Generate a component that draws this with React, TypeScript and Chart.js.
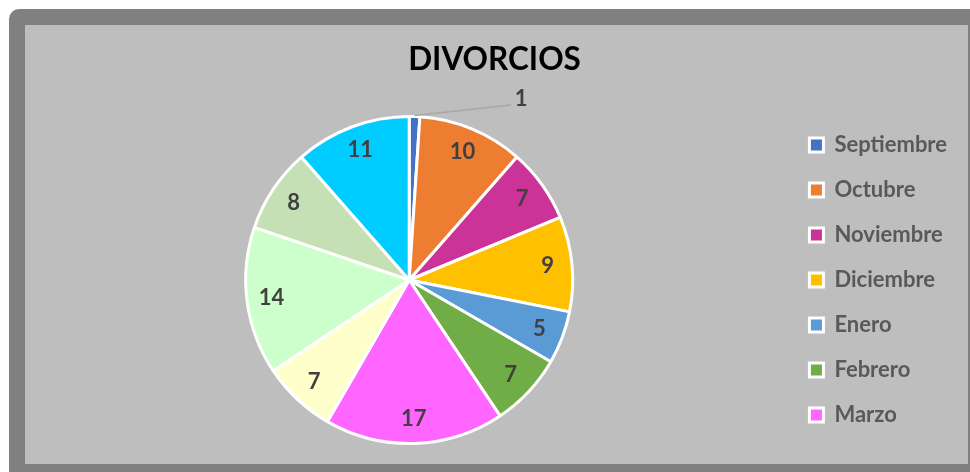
import { useEffect, useRef } from "react";
import { Chart, registerables } from "chart.js";

Chart.register(...registerables);

const chartTitle = "DIVORCIOS";
const months = [
  "Septiembre", "Octubre", "Noviembre", "Diciembre", "Enero", "Febrero",
  "Marzo", "Abril", "Mayo", "Junio", "Julio",
];
const divorces = [1, 10, 7, 9, 5, 7, 17, 7, 14, 8, 11];
const sliceColors = [
  "#4472C4", "#ED7D31", "#CC3399", "#FFC000", "#5B9BD5", "#70AD47",
  "#FF66FF", "#FFFFCC", "#CCFFCC", "#C5E0B4", "#00CCFF",
];
const legendVisibleCount = 7;

const FONT = "Lato, 'DejaVu Sans', sans-serif";

const valueLabels = {
  id: "valueLabels",
  afterDatasetsDraw(chart: any) {
    const ctx = chart.ctx as CanvasRenderingContext2D;
    const meta = chart.getDatasetMeta(0);
    const data = chart.data.datasets[0].data as number[];
    const total = data.reduce((a, b) => a + b, 0);
    ctx.save();
    ctx.font = `bold 22px ${FONT}`;
    ctx.fillStyle = "#404040";
    ctx.textAlign = "center";
    ctx.textBaseline = "middle";
    meta.data.forEach((arc: any, i: number) => {
      const { x, y, startAngle, endAngle, outerRadius } = arc.getProps(
        ["x", "y", "startAngle", "endAngle", "outerRadius"],
        true
      );
      const mid = (startAngle + endAngle) / 2;
      const v = data[i];
      if (v / total < 0.03) {
        const ex = x + Math.cos(mid) * (outerRadius + 1);
        const ey = y + Math.sin(mid) * (outerRadius + 1);
        const lx = ex + outerRadius * 0.59;
        const ly = ey - outerRadius * 0.065;
        ctx.strokeStyle = "#A6A6A6";
        ctx.lineWidth = 1.5;
        ctx.beginPath();
        ctx.moveTo(ex, ey);
        ctx.lineTo(lx, ly);
        ctx.stroke();
        ctx.fillText(String(v), lx + 10, ly - 6);
      } else {
        const r = outerRadius * 0.85;
        ctx.fillText(String(v), x + Math.cos(mid) * r, y + Math.sin(mid) * r);
      }
    });
    ctx.restore();
  },
};

export default function App() {
  const canvasRef = useRef<HTMLCanvasElement | null>(null);

  useEffect(() => {
    if (!canvasRef.current) return;
    const chart = new Chart(canvasRef.current, {
      type: "pie",
      data: {
        labels: months,
        datasets: [
          {
            data: divorces,
            backgroundColor: sliceColors,
            borderColor: "#FFFFFF",
            borderWidth: 3,
            hoverOffset: 0,
            offset: 0,
            radius: 163.5,
          },
        ],
      },
      options: {
        animation: false,
        responsive: false,
        devicePixelRatio: 1,
        events: [],
        layout: { padding: { left: 7, right: 11, top: 0, bottom: 9 } },
        plugins: {
          title: {
            display: true,
            text: chartTitle,
            color: "#000000",
            font: { family: FONT, size: 31.5, weight: "bold", lineHeight: 1.2 },
            padding: { top: 16.4, bottom: 25.8 },
          },
          legend: {
            display: true,
            position: "right",
            fullSize: false,
            align: "center",
            labels: {
              color: "#595959",
              font: { family: FONT, size: 22, weight: "bold" },
              boxWidth: 14,
              boxHeight: 14,
              padding: 23,
              filter: (item: any) => item.index < legendVisibleCount,
            },
          },
          tooltip: { enabled: false },
        },
      },
      plugins: [valueLabels],
    });
    return () => chart.destroy();
  }, []);

  return (
    <div
      style={{
        position: "fixed",
        left: 0,
        top: 0,
        width: 970,
        height: 472,
        overflow: "hidden",
        background: "#FFFFFF",
      }}
    >
      <div
        style={{
          position: "absolute",
          left: 9,
          top: 9,
          width: 961,
          height: 463,
          boxSizing: "border-box",
          borderStyle: "solid",
          borderColor: "#808080",
          borderWidth: "16px 2px 8px 16px",
          borderTopLeftRadius: 10,
          background: "#BEBEBE",
        }}
      >
        <canvas ref={canvasRef} width={943} height={439} style={{ display: "block" }} />
      </div>
    </div>
  );
}
